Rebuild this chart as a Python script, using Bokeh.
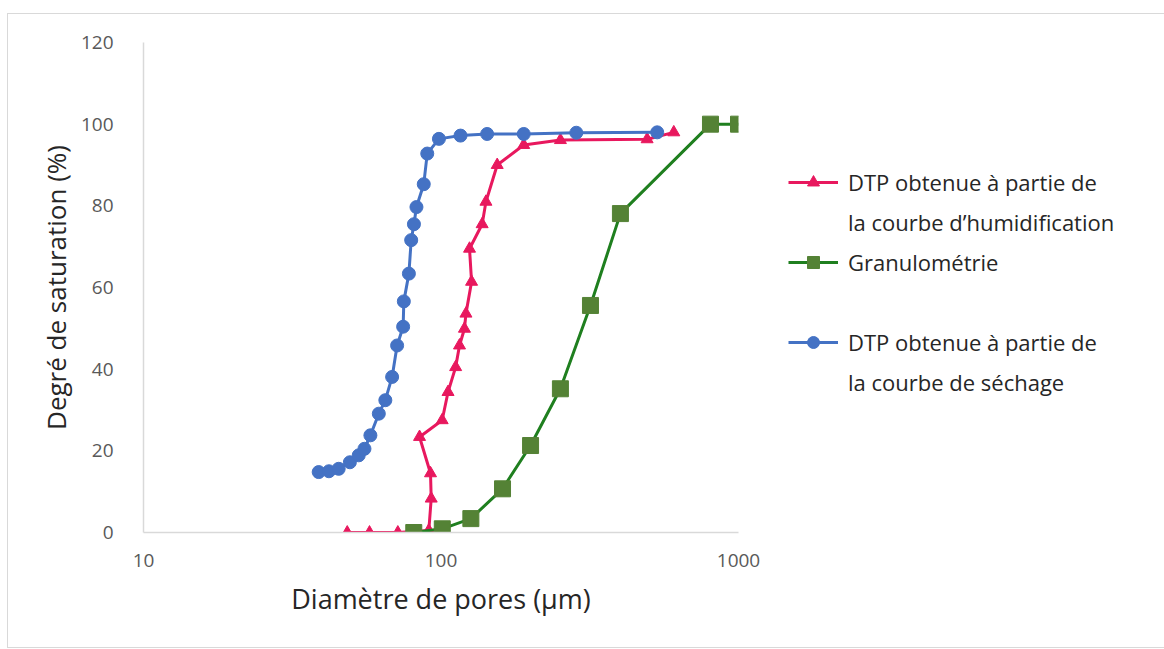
from bokeh.plotting import figure
from bokeh.models import FixedTicker, Legend, LegendItem, Range1d
from bokeh.embed import file_html
from bokeh.resources import INLINE

# ---- data ----
humid_d = [48.4, 57.5, 71.6, 91.0, 92.7, 92.2, 84.7, 100.9, 105.6, 112.0, 115.4, 119.9,
           121.3, 126.7, 124.7, 137.5, 141.6, 154.5, 189.7, 252, 493, 606]
humid_s = [0, 0, 0, 0.5, 8.3, 14.5, 23.4, 27.5, 34.4, 40.5, 45.8, 49.9,
           53.6, 61.4, 69.5, 75.5, 81.0, 90.0, 94.9, 96.1, 96.3, 98.0]

granulo_d = [81, 101, 126, 161, 200, 252, 318, 401, 805, 1000]
granulo_s = [0, 0.9, 3.4, 10.7, 21.3, 35.2, 55.6, 78.1, 100, 100]

sechage_d = [38.8, 42.0, 45.3, 49.4, 52.9, 55.3, 57.9, 61.8, 65.0, 68.5, 71.2, 74.6, 75.0,
             78.0, 79.4, 81.1, 82.7, 87.5, 89.9, 98.4, 116.3, 142.9, 189.7, 285, 533]
sechage_s = [14.8, 15.0, 15.6, 17.2, 18.9, 20.5, 23.8, 29.1, 32.4, 38.1, 45.8, 50.4, 56.6,
             63.4, 71.6, 75.5, 79.7, 85.3, 92.8, 96.4, 97.2, 97.6, 97.6, 97.9, 98.0]

x_ticks = [10, 100, 1000]
x_tick_labels = ["10", "100", "1000"]
y_ticks = [0, 20, 40, 60, 80, 100, 120]

label_humid = ["DTP obtenue à partie de", "la courbe d’humidification"]
label_granulo = ["Granulométrie"]
label_sechage = ["DTP obtenue à partie de", "la courbe de séchage"]

RED = "#E8185E"
GREEN_LINE = "#1F7F1F"
GREEN_MARK = "#548235"
BLUE = "#4472C4"
FONT = "Open Sans"

p = figure(frame_width=595, frame_height=490, x_axis_type="log", output_backend="svg",
           toolbar_location=None, x_range=Range1d(10, 1000), y_range=Range1d(0, 120),
           min_border_left=135, min_border_right=424, min_border_top=28,
           min_border_bottom=115, outline_line_color=None,
           styles={"border": "1px solid #d9d9d9", "margin-left": "7px", "margin-top": "13px"})

p.xgrid.visible = False
p.ygrid.visible = False

for ax in (p.xaxis[0], p.yaxis[0]):
    ax.axis_line_color = "#d9d9d9"
    ax.axis_line_width = 1.5
    ax.major_tick_line_color = None
    ax.minor_tick_line_color = None
    ax.major_label_text_color = "#595959"
    ax.major_label_text_font = FONT
    ax.major_label_text_font_size = "19px"
    ax.axis_label_text_font = FONT
    ax.axis_label_text_font_style = "normal"
    ax.axis_label_text_color = "#262626"
    ax.axis_label_text_font_size = "26px"

p.xaxis.ticker = FixedTicker(ticks=x_ticks)
p.xaxis.major_label_overrides = {t: s for t, s in zip(x_ticks, x_tick_labels)}
p.xaxis.major_label_standoff = 15
p.xaxis.axis_label = "Diamètre de pores (µm)"
p.xaxis.axis_label_text_font_size = "27px"
p.xaxis.axis_label_standoff = 10

p.yaxis.ticker = FixedTicker(ticks=y_ticks)
p.yaxis.major_label_standoff = 24
p.yaxis.axis_label = "Degré de saturation (%)"
p.yaxis.axis_label_standoff = 4

r_line = p.line(humid_d, humid_s, line_color=RED, line_width=3)
r_mark = p.scatter(humid_d, humid_s, marker="triangle", size=12, fill_color=RED, line_color=RED)

g_line = p.line(granulo_d, granulo_s, line_color=GREEN_LINE, line_width=3)
g_mark = p.scatter(granulo_d, granulo_s, marker="square", size=16, fill_color=GREEN_MARK,
                   line_color=GREEN_MARK)

b_line = p.line(sechage_d, sechage_s, line_color=BLUE, line_width=3)
b_mark = p.scatter(sechage_d, sechage_s, marker="circle", size=13, fill_color=BLUE, line_color=BLUE)

items = [
    LegendItem(label=label_humid[0], renderers=[r_line, r_mark]),
    LegendItem(label=label_humid[1], renderers=[]),
    LegendItem(label=label_granulo[0], renderers=[g_line, g_mark]),
    LegendItem(label=" ", renderers=[]),
    LegendItem(label=label_sechage[0], renderers=[b_line, b_mark]),
    LegendItem(label=label_sechage[1], renderers=[]),
]

legend = Legend(
    items=items, location=(50, 135), glyph_width=50, glyph_height=30, label_height=30,
    label_standoff=10, padding=0, margin=0, spacing=10, border_line_alpha=0,
    background_fill_alpha=0, label_text_font=FONT, label_text_font_size="22px",
    label_text_color="#262626")
p.add_layout(legend, "right")

open("out.html", "w").write(file_html(p, INLINE))
